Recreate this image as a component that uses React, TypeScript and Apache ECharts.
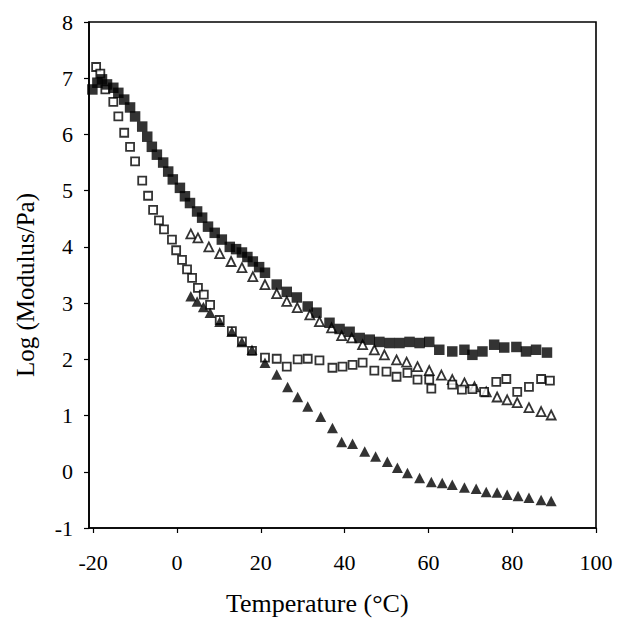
import React, { useEffect, useRef } from "react";
import * as echarts from "echarts";

const xTicks = [-20, 0, 20, 40, 60, 80, 100];

const filledSquares: number[][] = [
  [-21.2, 6.65], [-20.2, 6.8], [-19, 6.92], [-17.9, 6.98], [-16.7, 6.89], [-15.2, 6.83], [-14, 6.74],
  [-12.6, 6.62], [-11.2, 6.48], [-10, 6.32], [-8.3, 6.14], [-7.1, 5.96], [-6, 5.78], [-4.8, 5.64],
  [-3.3, 5.5], [-2.1, 5.34], [-1, 5.2], [0.7, 5.05], [1.9, 4.9], [3.1, 4.78], [4.8, 4.63], [6, 4.52],
  [7.4, 4.36], [9, 4.25], [10.7, 4.13], [12.6, 4.0], [14.1, 3.96], [15.5, 3.9], [16.8, 3.82], [18.1, 3.74],
  [19.6, 3.64], [21, 3.54], [23.8, 3.33], [26.2, 3.2], [28.6, 3.1], [31.2, 2.94], [33.3, 2.83], [36.4, 2.65],
  [38.8, 2.54], [41.2, 2.49], [43.6, 2.38], [46, 2.35], [48.3, 2.31], [50.7, 2.29], [53.1, 2.29], [55.5, 2.31],
  [57.9, 2.29], [60.2, 2.31], [62.6, 2.17], [65.7, 2.14], [68.6, 2.17], [70.5, 2.08], [72.9, 2.14],
  [75.7, 2.26], [78.1, 2.21], [81, 2.22], [83.3, 2.14], [85.7, 2.17], [88.3, 2.12],
];

const openSquares: number[][] = [
  [-21.2, 7.25], [-19.3, 7.2], [-18.3, 7.08], [-17.1, 6.8], [-15.2, 6.58], [-14, 6.32], [-12.6, 6.03],
  [-11.2, 5.78], [-10, 5.52], [-8.3, 5.18], [-6.9, 4.91], [-5.7, 4.66], [-4.3, 4.47], [-3.1, 4.31],
  [-1.2, 4.13], [-0.2, 3.94], [1.2, 3.77], [2.4, 3.6], [3.6, 3.45], [5.0, 3.27], [6.4, 3.15], [7.9, 2.97],
  [10.2, 2.7], [13.1, 2.5], [15.5, 2.32], [17.9, 2.15], [21, 2.03], [23.8, 2.01], [26.2, 1.87],
  [28.8, 2.0], [31.2, 2.01], [34, 1.98], [37.1, 1.85], [39.5, 1.87], [41.9, 1.9], [44.3, 1.94],
  [47.1, 1.8], [50, 1.78], [52.4, 1.69], [55, 1.76], [57.4, 1.64], [60.2, 1.64], [60.7, 1.48],
  [65.7, 1.55], [68, 1.46], [70.5, 1.47], [73.3, 1.42], [76.2, 1.6], [78.6, 1.65], [81.2, 1.42],
  [84, 1.51], [86.9, 1.65], [89, 1.62],
];

const openTriangles: number[][] = [
  [3.3, 4.23], [5, 4.16], [7.6, 4.0], [10.2, 3.88], [12.9, 3.74], [15.5, 3.63], [18.1, 3.47], [21, 3.33],
  [23.8, 3.17], [26.2, 3.03], [28.7, 2.92], [31.7, 2.79], [34, 2.67], [36.9, 2.56], [39.3, 2.42],
  [41.7, 2.38], [44.3, 2.26], [47.1, 2.17], [49.5, 2.08], [52.4, 1.99], [54.8, 1.95], [57.4, 1.87],
  [60.2, 1.8], [63.1, 1.72], [65.7, 1.64], [68.6, 1.58], [71, 1.51], [73.8, 1.42], [76.4, 1.33],
  [78.8, 1.28], [81.2, 1.23], [84, 1.14], [86.9, 1.07], [89.3, 1.01],
];

const filledTriangles: number[][] = [
  [3.3, 3.12], [4.8, 3.03], [6.3, 2.93], [7.9, 2.83], [10.2, 2.67], [13.1, 2.49], [15.5, 2.31],
  [17.9, 2.17], [21, 1.94], [23.8, 1.73], [26.4, 1.51], [28.8, 1.33], [31.2, 1.16], [34.3, 0.98],
  [37.1, 0.78], [39.3, 0.53], [41.9, 0.5], [44.8, 0.36], [47.4, 0.27], [50.2, 0.18], [52.6, 0.07],
  [55, -0.02], [57.9, -0.11], [60.7, -0.18], [63.3, -0.2], [65.7, -0.23], [68.6, -0.28], [71.4, -0.3],
  [73.8, -0.36], [76.4, -0.37], [78.8, -0.41], [81.4, -0.43], [84, -0.46], [86.9, -0.5], [89.3, -0.52],
];

const FONT = "'Liberation Serif', 'Times New Roman', serif";

export default function App() {
  const ref = useRef<HTMLDivElement>(null);
  useEffect(() => {
    if (!ref.current) return;
    const chart = echarts.init(ref.current, undefined, { renderer: "svg" });
    const openStyle = { color: "#fff", borderColor: "#000", borderWidth: 1.8 };
    const filledStyle = { color: "#000" };
    chart.setOption({
      animation: false,
      backgroundColor: "#fff",
      grid: {
        left: 89,
        right: 23,
        top: 22,
        bottom: 93,
        show: true,
        borderColor: "#000",
        borderWidth: 1.6,
        backgroundColor: "transparent",
      },
      xAxis: {
        type: "value",
        min: -21,
        max: 100,
        splitLine: { show: false },
        axisLine: { show: true, onZero: false, lineStyle: { color: "#000", width: 1.6 } },
        axisTick: { show: true, inside: false, length: 5, customValues: xTicks, lineStyle: { color: "#000", width: 1.2 } },
        axisLabel: {
          customValues: xTicks,
          color: "#000",
          fontFamily: FONT,
          fontSize: 22,
          margin: 23,
        },
      },
      yAxis: {
        type: "value",
        min: -1,
        max: 8,
        interval: 1,
        splitLine: { show: false },
        axisLine: { show: true, onZero: false, lineStyle: { color: "#000", width: 1.6 } },
        axisTick: { show: true, inside: false, length: 5, lineStyle: { color: "#000", width: 1.2 } },
        axisLabel: { color: "#000", fontFamily: FONT, fontSize: 22, margin: 16 },
      },
      graphic: [
        {
          type: "text",
          left: 226,
          top: 590,
          style: { text: "Temperature (°C)", font: `26px ${FONT}`, fill: "#000" },
        },
        {
          type: "text",
          x: 13,
          y: 377,
          rotation: Math.PI / 2,
          style: { text: "Log (Modulus/Pa)", font: `25px ${FONT}`, fill: "#000" },
        },
      ],
      series: [
        { type: "scatter", data: openTriangles, symbol: "triangle", symbolSize: [9, 9], itemStyle: openStyle, z: 2 },
        { type: "scatter", data: openSquares, symbol: "rect", symbolSize: 8, itemStyle: openStyle, z: 3 },
        { type: "scatter", data: filledSquares, symbol: "rect", symbolSize: 10.5, itemStyle: filledStyle, z: 4 },
        { type: "scatter", data: filledTriangles, symbol: "triangle", symbolSize: [11, 10.5], itemStyle: filledStyle, z: 5 },
      ],
    });
    return () => chart.dispose();
  }, []);
  return (
    <div
      ref={ref}
      style={{ position: "fixed", left: 0, top: 0, width: 619, height: 621 }}
    />
  );
}
